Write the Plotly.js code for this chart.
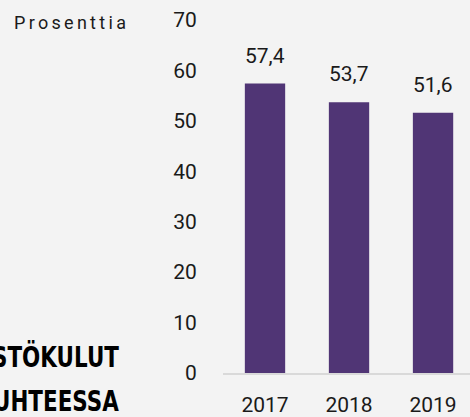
<!DOCTYPE html>
<html>
<head>
<meta charset="utf-8">
<script src="https://cdn.plot.ly/plotly-3.0.1.min.js"></script>
<style>
  html, body { margin: 0; padding: 0; background: #f3f3f3; }
  #chart { width: 470px; height: 417px; }
  .annotation-text[data-unformatted="Prosenttia"] { letter-spacing: 3.3px; }
  .annotation-text[data-unformatted="STÖKULUT"],
  .annotation-text[data-unformatted="UHTEESSA"] {
    transform-box: fill-box;
    transform-origin: 100% 50%;
    transform: scaleX(0.74);
  }
</style>
</head>
<body>
<div id="chart"></div>
<script>
// ---- data ----
const years = ['2017', '2018', '2019'];
const shares = [57.4, 53.7, 51.6];
const yTicks = [0, 10, 20, 30, 40, 50, 60, 70];
const unitLabel = 'Prosenttia';
const titleLines = ['STÖKULUT', 'UHTEESSA'];

const fontFamily = 'Roboto, "Liberation Sans", Arial, sans-serif';
const titleFamily = '"DejaVu Sans", sans-serif';
const textColor = '#1a1a1a';

const valueAnnotations = years.map((yr, i) => ({
  x: i, y: shares[i], xref: 'x', yref: 'y',
  text: shares[i].toFixed(1).replace('.', ','),
  showarrow: false, yanchor: 'bottom', xanchor: 'center', yshift: 14,
  font: { family: fontFamily, size: 21, color: textColor }
}));

const trace = {
  type: 'bar',
  x: years,
  y: shares,
  width: 0.48,
  marker: { color: '#503575', line: { width: 0 } },
  hoverinfo: 'skip'
};

const layout = {
  width: 470, height: 417,
  margin: { l: 223, r: 0, t: 20, b: 43.5 },
  paper_bgcolor: '#f3f3f3',
  plot_bgcolor: '#f3f3f3',
  showlegend: false,
  separators: ',.',
  font: { family: fontFamily, size: 21, color: textColor },
  xaxis: {
    type: 'category',
    range: [-0.5, 2.44],
    showgrid: false, zeroline: false,
    showline: true, linecolor: '#d9d9d9', linewidth: 2,
    ticks: 'outside', ticklen: 12, tickcolor: 'rgba(0,0,0,0)',
    tickfont: { family: fontFamily, size: 21, color: textColor },
    fixedrange: true
  },
  yaxis: {
    range: [0, 70],
    tickvals: yTicks,
    ticktext: yTicks.map(String),
    showgrid: false, zeroline: false, showline: false,
    ticks: 'outside', ticklen: 21, tickcolor: 'rgba(0,0,0,0)',
    tickfont: { family: fontFamily, size: 21, color: textColor },
    fixedrange: true
  },
  annotations: valueAnnotations.concat([
    {
      xref: 'paper', yref: 'paper', x: -0.854, y: 0.994,
      xanchor: 'left', yanchor: 'middle', showarrow: false,
      text: unitLabel,
      font: { family: fontFamily, size: 18, color: textColor }
    },
    {
      xref: 'paper', yref: 'paper', x: -0.413, y: 0.044,
      xanchor: 'right', yanchor: 'middle', showarrow: false,
      text: titleLines[0],
      font: { family: titleFamily, size: 29, weight: 'bold', color: '#000000' }
    },
    {
      xref: 'paper', yref: 'paper', x: -0.413, y: -0.080,
      xanchor: 'right', yanchor: 'middle', showarrow: false,
      text: titleLines[1],
      font: { family: titleFamily, size: 29, weight: 'bold', color: '#000000' }
    }
  ])
};

Plotly.newPlot('chart', [trace], layout, { displayModeBar: false, staticPlot: true });
</script>
</body>
</html>
